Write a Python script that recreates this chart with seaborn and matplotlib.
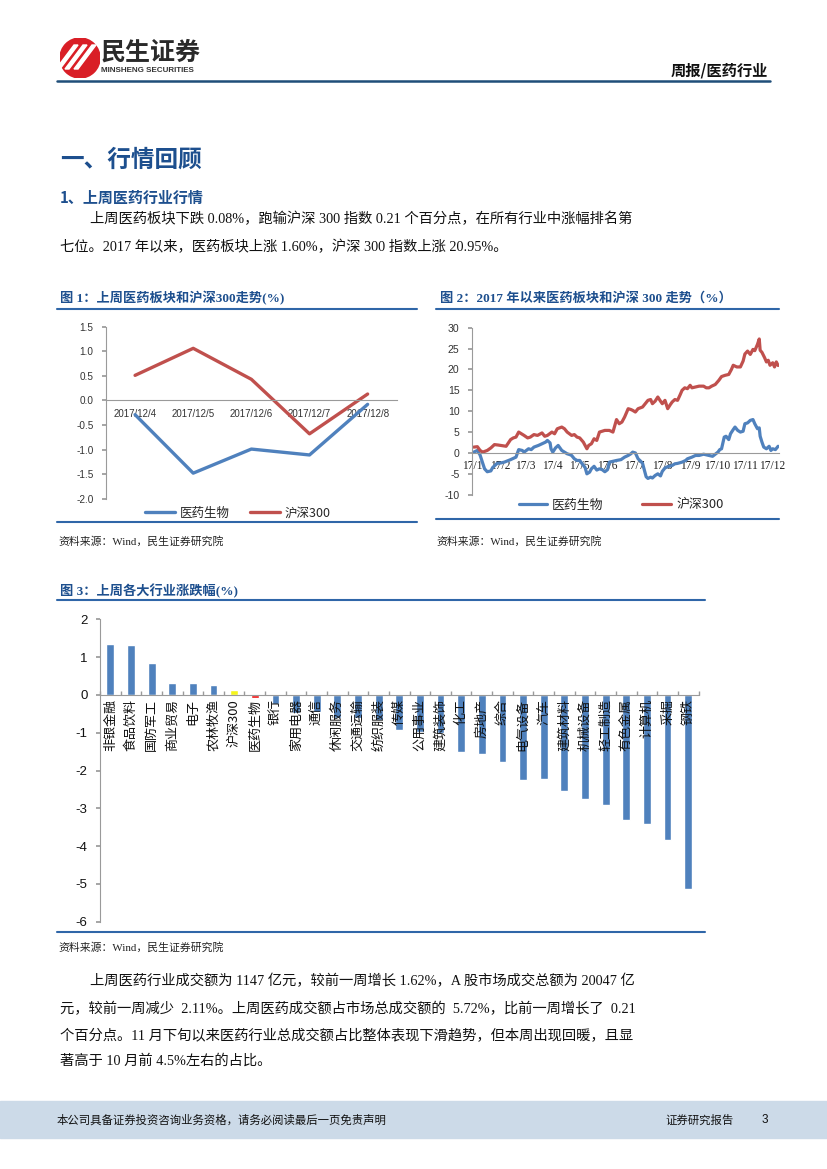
import numpy as np
import pandas as pd
import matplotlib
matplotlib.use('Agg')
import matplotlib.pyplot as plt
import seaborn as sns
from matplotlib.patches import Circle, Rectangle, Polygon
from matplotlib.lines import Line2D

# ---------------- data ----------------
c1_dates = ['2017/12/4', '2017/12/5', '2017/12/6', '2017/12/7', '2017/12/8']
c1_pharma = [-0.29, -1.48, -0.99, -1.11, -0.08]
c1_hs300 = [0.51, 1.06, 0.43, -0.68, 0.13]
c1_yticks = [1.5, 1.0, 0.5, 0.0, -0.5, -1.0, -1.5, -2.0]

# chart 2: days since 2017-01-03 and cumulative change (%)
c2_hs300_day = [0, 4, 7, 10, 15, 19, 23, 27, 30, 36, 41, 44, 47, 50, 53, 56, 60, 63, 67, 71,
                76, 79, 82, 87, 90, 93, 98, 101, 104, 109, 112, 115, 118, 122, 126, 128, 131,
                134, 137, 140, 143, 146, 151, 155, 159, 162, 165, 168, 172, 175, 177, 180, 183,
                188, 191, 194, 197, 199, 202, 205, 208, 210, 213, 216, 219, 221, 224, 227, 230,
                232, 235, 238, 241, 243, 247, 251, 256, 259, 262, 265, 269, 273, 276, 280, 284,
                287, 289, 293, 297, 300, 302, 305, 308, 311, 313, 316, 318, 319, 321, 324, 326,
                328, 330, 333, 335, 337, 339]
c2_hs300_val = [1.4, 1.5, 0.6, 0.2, 0.6, 1.2, 2.0, 1.9, 1.8, 1.6, 3.2, 3.6, 3.8, 5.0, 4.6, 4.2,
                3.6, 3.8, 4.4, 4.2, 4.8, 4.0, 4.2, 5.0, 4.6, 5.8, 6.2, 5.8, 5.0, 4.2, 4.4, 3.8,
                3.6, 2.6, 1.0, 1.8, 2.2, 3.4, 3.0, 5.0, 5.2, 5.4, 5.4, 5.0, 8.0, 7.0, 7.4, 8.6,
                10.6, 10.4, 10.2, 9.8, 10.6, 11.0, 11.8, 12.6, 12.8, 11.8, 12.4, 13.4, 12.4,
                11.8, 12.6, 10.6, 11.6, 12.2, 12.8, 12.6, 14.0, 15.0, 15.6, 15.4, 16.2, 15.6,
                15.8, 16.0, 16.0, 15.6, 15.6, 16.0, 16.4, 17.4, 18.3, 18.6, 18.8, 20.0, 21.0,
                20.6, 20.6, 22.0, 23.7, 24.4, 23.6, 24.8, 24.5, 26.0, 27.3, 24.6, 24.1, 22.8,
                21.8, 22.2, 21.0, 21.6, 20.6, 21.8, 20.95]
c2_pharma_day = [0, 4, 7, 10, 12, 15, 19, 21, 26, 30, 34, 41, 45, 47, 50, 54, 56, 61, 64, 67,
                 72, 76, 80, 82, 85, 86, 88, 91, 94, 98, 101, 104, 107, 109, 112, 115, 118, 120,
                 124, 126, 129, 131, 134, 137, 140, 143, 146, 149, 151, 155, 159, 164, 168, 172,
                 175, 177, 180, 183, 186, 188, 192, 194, 197, 199, 202, 205, 208, 210, 213, 216,
                 221, 224, 227, 232, 236, 238, 243, 247, 251, 256, 260, 262, 266, 269, 272, 274,
                 276, 279, 281, 284, 286, 289, 291, 294, 297, 300, 302, 305, 308, 311, 313, 316,
                 318, 319, 321, 323, 326, 329, 331, 333, 336, 339]
c2_pharma_val = [0.2, 0.6, -0.5, -2.5, -3.8, -4.5, -4.3, -3.5, -2.5, -2.4, -2.2, -1.6, -1.2,
                 -1.0, 0.8, 0.6, 0.2, 1.0, 0.8, 1.4, 1.8, 2.2, 2.6, 3.0, 2.4, 1.0, 0.2, 1.2, 1.8,
                 0.6, 0.2, -0.2, -0.4, -0.6, -1.4, -1.8, -1.8, -2.4, -3.5, -5.0, -4.6, -3.8,
                 -3.2, -4.1, -3.8, -4.0, -4.5, -4.0, -2.2, -2.0, -1.8, -1.6, -1.0, -0.6, -0.2,
                 0.2, 0.0, -1.4, -2.0, -2.5, -5.7, -6.1, -5.8, -6.0, -5.4, -5.0, -5.5, -4.4,
                 -3.6, -3.3, -3.0, -2.6, -2.5, -2.2, -1.8, -1.4, -1.0, -0.6, -0.6, -0.3, -0.5,
                 -0.6, -0.8, -0.3, 0.2, 0.8, 1.0, 3.8, 4.0, 3.2, 4.6, 5.6, 6.2, 5.4, 5.0, 5.2,
                 7.0, 7.2, 7.8, 8.0, 7.0, 5.8, 6.0, 4.0, 2.6, 1.4, 1.0, 1.6, 0.6, 1.0, 0.8, 1.6]
c2_month_labels = ['17/1', '17/2', '17/3', '17/4', '17/5', '17/6', '17/7', '17/8', '17/9',
                   '17/10', '17/11', '17/12']
c2_month_day = [-2, 29, 57, 88, 118, 149, 179, 210, 241, 271, 302, 332]
c2_yticks = [30, 25, 20, 15, 10, 5, 0, -5, -10]

c3_industries = ['非银金融', '食品饮料', '国防军工', '商业贸易', '电子', '农林牧渔', '沪深300',
                 '医药生物', '银行', '家用电器', '通信', '休闲服务', '交通运输', '纺织服装',
                 '传媒', '公用事业', '建筑装饰', '化工', '房地产', '综合', '电气设备', '汽车',
                 '建筑材料', '机械设备', '轻工制造', '有色金属', '计算机', '采掘', '钢铁']
c3_change = [1.34, 1.32, 0.84, 0.32, 0.31, 0.26, 0.13, -0.08, -0.23, -0.48, -0.45, -0.6,
             -0.62, -0.66, -0.94, -0.97, -1.02, -1.5, -1.57, -1.77, -2.24, -2.23, -2.55,
             -2.75, -2.92, -3.32, -3.41, -3.85, -5.13]
c3_yticks = [2, 1, 0, -1, -2, -3, -4, -5, -6]

# ---------------- style ----------------
sns.set_theme(style='white')
plt.rcParams['font.family'] = ['Noto Sans CJK SC', 'DejaVu Sans']
plt.rcParams['axes.unicode_minus'] = False

BLUE = '#4F81BD'
RED = '#C0504D'
NAVY = '#1F4E79'
HEAD = '#1D4F8E'
RULE = '#2F66A8'
GRID = '#9A9A9A'
SERIF = ['Liberation Serif', 'Noto Sans CJK SC']
SANS = ['Liberation Sans', 'Noto Sans CJK SC']

W, H = 827, 1169
fig = plt.figure(figsize=(W / 100, H / 100), dpi=100)


def fx(x):
    return x / W


def fy(y):
    return 1 - y / H


def T(x, y, s, **kw):
    kw.setdefault('va', 'center')
    fig.text(fx(x), fy(y), s, **kw)


def hline(x0, x1, y, color, lw):
    fig.add_artist(Line2D([fx(x0), fx(x1)], [fy(y), fy(y)], color=color, lw=lw,
                          transform=fig.transFigure))


def axes_px(x0, y0, x1, y1):
    return fig.add_axes([fx(x0), fy(y1), (x1 - x0) / W, (y1 - y0) / H])


def base_axes(ax):
    for s in ('top', 'right'):
        ax.spines[s].set_visible(False)
    ax.spines['bottom'].set_position(('data', 0))
    for s in ('left', 'bottom'):
        ax.spines[s].set_color(GRID)
        ax.spines[s].set_linewidth(0.8)
    ax.set_xlabel('')
    ax.set_ylabel('')
    ax.patch.set_alpha(0)


# ---------------- header ----------------
lax = axes_px(60, 38, 100, 78)
lax.set_xlim(-1, 1)
lax.set_ylim(-1, 1)
lax.set_aspect('equal')
lax.axis('off')
lax.add_patch(Circle((0, 0), 1, color='#D91E26'))
for off in (-0.45, 0.0, 0.45):
    lax.add_patch(Polygon([(-0.75 + off, -0.55), (-0.55 + off, -0.55),
                           (0.35 + off, 0.65), (0.15 + off, 0.65)], color='white'))
T(101, 53, '民生证券', fontsize=18, fontweight='bold', color='#2A2A2A')
T(101, 71, 'MINSHENG SECURITIES', fontsize=5.8, fontweight='bold', color='#333333',
  family='Liberation Sans')
T(768, 70, '周报/医药行业', fontsize=11, fontweight='bold', color='#111111', ha='right')
hline(57, 770, 81, NAVY, 1.8)

# ---------------- section text ----------------
T(60, 160, '一、行情回顾', fontsize=17, fontweight='bold', color=HEAD)
T(60, 198, '1、上周医药行业行情', fontsize=10.8, fontweight='bold', color=HEAD)
T(90, 219, '上周医药板块下跌 0.08%，跑输沪深 300 指数 0.21 个百分点，在所有行业中涨幅排名第',
  fontsize=10.3, family=SERIF, color='#111111')
T(60, 247, '七位。2017 年以来，医药板块上涨 1.60%，沪深 300 指数上涨 20.95%。',
  fontsize=10.3, family=SERIF, color='#111111')

# ---------------- chart 1 ----------------
T(60, 298, '图 1：上周医药板块和沪深300走势(%)', fontsize=9.5, fontweight='bold', color=HEAD,
  family=SERIF)
hline(57, 417, 309, RULE, 1.5)
hline(57, 417, 522, RULE, 1.5)
T(58, 541, '资料来源：Wind，民生证券研究院', fontsize=7.8, family=SERIF, color='#222222')

ax1 = axes_px(106, 326.7, 396.7, 498.7)
pos1 = np.arange(len(c1_dates))
df1 = pd.DataFrame({'pos': np.concatenate([pos1, pos1]),
                    'value': c1_pharma + c1_hs300,
                    'series': ['医药生物'] * len(c1_dates) + ['沪深300'] * len(c1_dates)})
sns.lineplot(data=df1, x='pos', y='value', hue='series', hue_order=['医药生物', '沪深300'],
             palette={'医药生物': BLUE, '沪深300': RED}, linewidth=2.4, ax=ax1)
base_axes(ax1)
ax1.set_xlim(-0.5, len(c1_dates) - 0.5)
ax1.set_ylim(-2.0, 1.5)
ax1.set_yticks(c1_yticks)
ax1.set_yticklabels([f'{v:.1f}' for v in c1_yticks], family=SANS, fontsize=7.2, color='#333333')
ax1.set_xticks(pos1)
ax1.set_xticklabels(c1_dates, family=SANS, fontsize=7, color='#333333')
ax1.tick_params(axis='y', direction='out', length=3, color=GRID, pad=6, left=True)
ax1.tick_params(axis='x', length=0, pad=6)
sns.move_legend(ax1, 'center', bbox_to_anchor=(fx(238), fy(513)),
                bbox_transform=fig.transFigure, ncol=2, frameon=False, title=None,
                fontsize=9, handlelength=2.4, columnspacing=1.6, handletextpad=0.4)

# ---------------- chart 2 ----------------
T(440, 298, '图 2：2017 年以来医药板块和沪深 300 走势（%）', fontsize=9.5, fontweight='bold',
  color=HEAD, family=SERIF)
hline(436, 779, 309, RULE, 1.5)
hline(436, 779, 519, RULE, 1.5)
T(436, 541, '资料来源：Wind，民生证券研究院', fontsize=7.8, family=SERIF, color='#222222')

ax2 = axes_px(472, 327.7, 779, 494.7)
df2 = pd.concat([
    pd.DataFrame({'day': c2_pharma_day, 'value': c2_pharma_val, 'series': '医药生物'}),
    pd.DataFrame({'day': c2_hs300_day, 'value': c2_hs300_val, 'series': '沪深300'}),
], ignore_index=True)
sns.lineplot(data=df2, x='day', y='value', hue='series', hue_order=['医药生物', '沪深300'],
             palette={'医药生物': BLUE, '沪深300': RED}, linewidth=2.3, ax=ax2)
base_axes(ax2)
ax2.set_xlim(-2, 340)
ax2.set_ylim(-10, 30)
ax2.set_yticks(c2_yticks)
ax2.set_yticklabels([str(v) for v in c2_yticks], family=SANS, fontsize=7.6, color='#333333')
ax2.set_xticks(c2_month_day)
ax2.set_xticklabels(c2_month_labels, family='Liberation Serif', fontsize=8.3, color='#222222')
ax2.tick_params(axis='y', direction='out', length=3, color=GRID, pad=6, left=True)
ax2.tick_params(axis='x', length=0, pad=5)
sns.move_legend(ax2, 'center', bbox_to_anchor=(fx(621), fy(505)),
                bbox_transform=fig.transFigure, ncol=2, frameon=False, title=None,
                fontsize=9.3, handlelength=2.2, columnspacing=3.0, handletextpad=0.4)

# ---------------- chart 3 ----------------
T(60, 591, '图 3：上周各大行业涨跌幅(%)', fontsize=9.5, fontweight='bold', color=HEAD,
  family=SERIF)
hline(57, 705, 600, RULE, 1.5)
hline(57, 705, 932, RULE, 1.5)
T(58, 947, '资料来源：Wind，民生证券研究院', fontsize=7.8, family=SERIF, color='#222222')

ax3 = axes_px(100, 619.3, 698.5, 921.7)
bar_colors = {c: BLUE for c in c3_industries}
bar_colors['沪深300'] = '#F5F51A'
bar_colors['医药生物'] = '#F01010'
sns.barplot(x=c3_industries, y=c3_change, hue=c3_industries, palette=bar_colors,
            legend=False, width=0.38, saturation=1, ax=ax3)
base_axes(ax3)
ax3.set_axisbelow(False)
ax3.set_xlim(-0.5, len(c3_industries) - 0.5)
ax3.set_ylim(-6, 2)
ax3.set_yticks(c3_yticks)
ax3.set_yticklabels([str(v) for v in c3_yticks], family=SANS, fontsize=9.5, color='#111111')
ax3.set_xticks(np.arange(len(c3_industries)))
ax3.set_xticklabels(c3_industries, rotation=90, fontsize=9.4, color='#111111',
                    va='top', ha='center')
ax3.set_xticks(np.arange(len(c3_industries) + 1) - 0.5, minor=True)
ax3.tick_params(axis='y', direction='out', length=3, color=GRID, pad=6, left=True)
ax3.tick_params(axis='x', which='major', length=0, pad=3)
ax3.tick_params(axis='x', which='minor', direction='in', length=3, color=GRID, bottom=True)

# ---------------- second paragraph ----------------
para = [
    (90, 981, '上周医药行业成交额为 1147 亿元，较前一周增长 1.62%，A 股市场成交总额为 20047 亿'),
    (60, 1009, '元，较前一周减少  2.11%。上周医药成交额占市场总成交额的  5.72%，比前一周增长了  0.21'),
    (60, 1036, '个百分点。11 月下旬以来医药行业总成交额占比整体表现下滑趋势，但本周出现回暖，且显'),
    (60, 1061, '著高于 10 月前 4.5%左右的占比。'),
]
for x, y, s in para:
    T(x, y, s, fontsize=10.3, family=SERIF, color='#111111')

# ---------------- footer ----------------
fig.add_artist(Rectangle((0, fy(1138)), 1, (1138 - 1101) / H, transform=fig.transFigure,
                         color='#CCDAE8', zorder=0))
T(57, 1120, '本公司具备证券投资咨询业务资格，请务必阅读最后一页免责声明', fontsize=8.2,
  color='#111111')
T(665, 1120, '证券研究报告', fontsize=8.2, color='#111111')
T(762, 1120, '3', fontsize=8.5, color='#111111', family='Liberation Sans')

fig.savefig('out.png', dpi=100)
